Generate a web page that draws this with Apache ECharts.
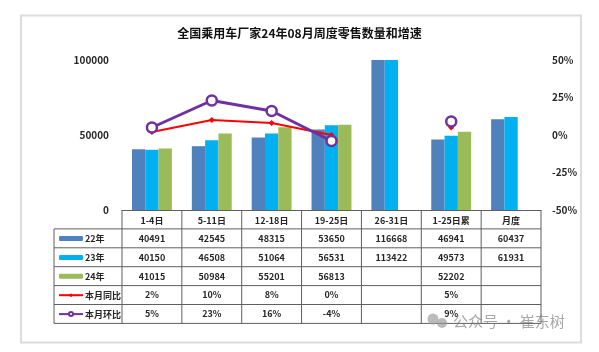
<!DOCTYPE html>
<html>
<head>
<meta charset="utf-8">
<script src="https://cdn.jsdelivr.net/npm/echarts@6/dist/echarts.min.js"></script>
<style>
  html, body { margin: 0; padding: 0; background: #fff; }
  #chart-main { width: 599px; height: 352px; }
</style>
</head>
<body>
<div id="chart-main"></div>
<script>
var categories = ['1-4日', '5-11日', '12-18日', '19-25日', '26-31日', '1-25日累', '月度'];
var sales22 = [40491, 42545, 48315, 53650, 116668, 46941, 60437];
var sales23 = [40150, 46508, 51064, 56531, 113422, 49573, 61931];
var sales24 = [41015, 50984, 55201, 56813, null, 52202, null];
var yearOnYear = [2, 10, 8, 0, null, 5, null];
var monthOnMonth = [5, 23, 16, -4, null, 9, null];

var FONT = '"Noto Sans CJK SC", "Noto Sans", sans-serif';
var TEXT_COLOR = '#262626';
var LINE_COLOR = '#5f5f5f';

// 图表区位置，表格和坐标轴共用
var plotLeft = 122, plotRight = 541, plotTop = 60, plotBottom = 210;
var tableLeft = 54, rowHeight = 18.9;
var colWidth = (plotRight - plotLeft) / categories.length;

function pct(list) {
  return list.map(function (v) { return v === null ? '' : v + '%'; });
}
function blank(list) {
  return list.map(function (v) { return v === null ? '' : String(v); });
}
var tableRows = [blank(sales22), blank(sales23), blank(sales24), pct(yearOnYear), pct(monthOnMonth)];

// 表格线和单元格文字
function buildTable() {
  var items = [];
  var tableBottom = plotBottom + rowHeight * 6;
  function line(x1, y1, x2, y2) {
    items.push({
      type: 'line',
      silent: true,
      shape: { x1: x1, y1: y1, x2: x2, y2: y2 },
      style: { stroke: LINE_COLOR, lineWidth: 1 }
    });
  }
  for (var c = 0; c <= categories.length; c++) {
    line(plotLeft + c * colWidth, plotBottom, plotLeft + c * colWidth, tableBottom);
  }
  line(tableLeft, plotBottom + rowHeight, tableLeft, tableBottom);
  for (var r = 1; r <= 6; r++) {
    line(tableLeft, plotBottom + r * rowHeight, plotRight, plotBottom + r * rowHeight);
  }
  tableRows.forEach(function (row, r) {
    row.forEach(function (text, c) {
      items.push({
        type: 'text',
        silent: true,
        x: plotLeft + (c + 0.5) * colWidth,
        y: plotBottom + (r + 1.5) * rowHeight,
        style: {
          text: text,
          fill: TEXT_COLOR,
          font: 'bold 9px ' + FONT,
          textAlign: 'center',
          textVerticalAlign: 'middle'
        }
      });
    });
  });
  return items;
}

// 外框和水印
var frame = {
  type: 'rect',
  silent: true,
  z: -10,
  shape: { x: 21, y: 15.5, width: 560, height: 327 },
  style: { fill: '#fff', stroke: '#dcdcdc', lineWidth: 2 }
};
var watermark = [
  { type: 'circle', silent: true, z: 20, shape: { cx: 433, cy: 319, r: 5.5 }, style: { fill: 'rgba(150,150,150,0.65)' } },
  { type: 'circle', silent: true, z: 20, shape: { cx: 442, cy: 323, r: 5 }, style: { fill: 'rgba(150,150,150,0.65)' } },
  {
    type: 'text', silent: true, z: 20, x: 453, y: 321,
    style: {
      text: '公众号 · 崔东树',
      fill: 'rgba(120,120,120,0.65)',
      font: '15px ' + FONT,
      textAlign: 'left',
      textVerticalAlign: 'middle'
    }
  }
];

var chart = echarts.init(document.getElementById('chart-main'));
chart.setOption({
  animation: false,
  backgroundColor: '#fff',
  textStyle: { fontFamily: FONT },
  title: {
    text: '全国乘用车厂家24年08月周度零售数量和增速',
    left: 'center',
    top: 22,
    textStyle: { fontSize: 12, fontWeight: 'bold', color: '#111', fontFamily: FONT }
  },
  legend: {
    orient: 'vertical',
    left: 53,
    top: 229,
    itemWidth: 24,
    itemHeight: 5,
    itemGap: 9.9,
    textStyle: { fontSize: 9, fontWeight: 'bold', color: TEXT_COLOR, padding: [0, 0, 0, -3] },
    data: ['22年', '23年', '24年', '本月同比', '本月环比']
  },
  grid: { left: plotLeft, right: 599 - plotRight, top: plotTop, bottom: 352 - plotBottom },
  xAxis: {
    type: 'category',
    data: categories,
    axisLine: { show: true, lineStyle: { color: LINE_COLOR, width: 1 } },
    axisTick: { show: false },
    axisLabel: { margin: 6, interval: 0, fontSize: 9, fontWeight: 'bold', color: TEXT_COLOR }
  },
  yAxis: [
    {
      type: 'value',
      min: 0,
      max: 100000,
      interval: 50000,
      axisLine: { show: false },
      axisTick: { show: false },
      splitLine: { show: false },
      axisLabel: {
        margin: 13,
        fontSize: 10,
        fontWeight: 'bold',
        color: TEXT_COLOR,
        formatter: function (v) { return String(v); }
      }
    },
    {
      type: 'value',
      min: -50,
      max: 50,
      interval: 25,
      position: 'right',
      axisLine: { show: false },
      axisTick: { show: false },
      splitLine: { show: false },
      axisLabel: { margin: 11, fontSize: 10, fontWeight: 'bold', color: TEXT_COLOR, formatter: '{value}%' }
    }
  ],
  series: [
    { name: '22年', type: 'bar', data: sales22, barWidth: 13.3, barGap: 0, itemStyle: { color: '#4f81bd' } },
    { name: '23年', type: 'bar', data: sales23, barWidth: 13.3, barGap: 0, itemStyle: { color: '#00b0f0' } },
    { name: '24年', type: 'bar', data: sales24, barWidth: 13.3, barGap: 0, itemStyle: { color: '#9bbb59' } },
    {
      name: '本月同比',
      type: 'line',
      yAxisIndex: 1,
      data: yearOnYear,
      showAllSymbol: true,
      symbol: 'diamond',
      symbolSize: 6,
      lineStyle: { color: '#ff0000', width: 2 },
      itemStyle: { color: '#ff0000' }
    },
    {
      name: '本月环比',
      type: 'line',
      yAxisIndex: 1,
      data: monthOnMonth,
      showAllSymbol: true,
      symbol: 'circle',
      symbolSize: 10,
      lineStyle: { color: '#7030a0', width: 3 },
      itemStyle: { color: '#fff', borderColor: '#7030a0', borderWidth: 2.5 }
    }
  ],
  graphic: [frame].concat(buildTable(), watermark)
});
</script>
</body>
</html>
